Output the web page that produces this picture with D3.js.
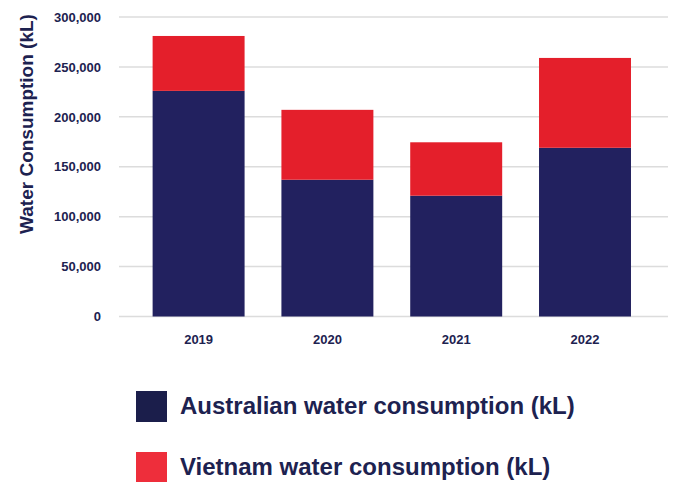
<!DOCTYPE html>
<html>
<head>
<meta charset="utf-8">
<script src="https://cdn.jsdelivr.net/npm/d3@7"></script>
<style>
  html, body { margin: 0; padding: 0; background: #ffffff; }
  svg { display: block; }
  text { font-family: "Liberation Sans", Arial, Helvetica, sans-serif; font-weight: bold; fill: #1d2250; }
</style>
</head>
<body>
<svg id="chart" width="677" height="482"></svg>
<script>
const years = ["2019", "2020", "2021", "2022"];
const australian = [226000, 137000, 121000, 169000];
const vietnam = [55000, 70000, 53500, 90000];
const seriesNames = ["Australian water consumption (kL)", "Vietnam water consumption (kL)"];
const yTicks = [0, 50000, 100000, 150000, 200000, 250000, 300000];
const yTitle = "Water Consumption (kL)";

const barColors = ["#22215f", "#e41f2b"];
const legendColors = ["#1b1e4b", "#ee2e3b"];

const svg = d3.select("#chart");
const plotLeft = 119, plotRight = 668, plotTop = 17, plotBottom = 316.5;

const x = d3.scaleBand().domain(years).range([plotLeft, 664.6]).paddingInner(0.286).paddingOuter(0.261);
const y = d3.scaleLinear().domain([0, 300000]).range([plotBottom, plotTop]);

// grid
svg.append("g").selectAll("line").data(yTicks).join("line")
  .attr("x1", plotLeft).attr("x2", plotRight)
  .attr("y1", d => y(d)).attr("y2", d => y(d))
  .attr("stroke", "#dcdcdc").attr("stroke-width", 1.5);

// y axis labels
const yAxis = d3.axisLeft(y).tickValues(yTicks).tickFormat(d3.format(",")).tickSize(0).tickPadding(0);
const gy = svg.append("g").attr("transform", `translate(101,0)`).call(yAxis);
gy.select(".domain").remove();
gy.selectAll("text").style("font-size", "13px").attr("fill", "#1d2250")
  .style("font-family", "'Liberation Sans', Arial, sans-serif").style("font-weight", "bold");

// x axis labels
const xAxis = d3.axisBottom(x).tickSize(0).tickPadding(0);
const gx = svg.append("g").attr("transform", `translate(0,335)`).call(xAxis);
gx.select(".domain").remove();
gx.selectAll("text").style("font-size", "13px").attr("fill", "#1d2250")
  .style("font-family", "'Liberation Sans', Arial, sans-serif").style("font-weight", "bold");

// stacked bars
const rows = years.map((yr, i) => ({ year: yr, a: australian[i], v: vietnam[i] }));
const stack = d3.stack().keys(["a", "v"])(rows);
svg.append("g").selectAll("g").data(stack).join("g")
  .attr("fill", (d, i) => barColors[i])
  .selectAll("rect").data(d => d).join("rect")
  .attr("x", d => x(d.data.year))
  .attr("width", x.bandwidth())
  .attr("y", d => y(d[1]))
  .attr("height", d => y(d[0]) - y(d[1]));

// y title
svg.append("text")
  .attr("transform", `translate(33,${124}) rotate(-90)`)
  .attr("text-anchor", "middle")
  .style("font-size", "19px")
  .text(yTitle);

// legend
const legend = svg.append("g");
const ly = [391, 452];
seriesNames.forEach((name, i) => {
  legend.append("rect").attr("x", 136).attr("y", ly[i]).attr("width", 31).attr("height", 31).attr("fill", legendColors[i]);
  legend.append("text").attr("x", 180).attr("y", ly[i] + 23).style("font-size", "24px").text(name);
});
</script>
</body>
</html>
